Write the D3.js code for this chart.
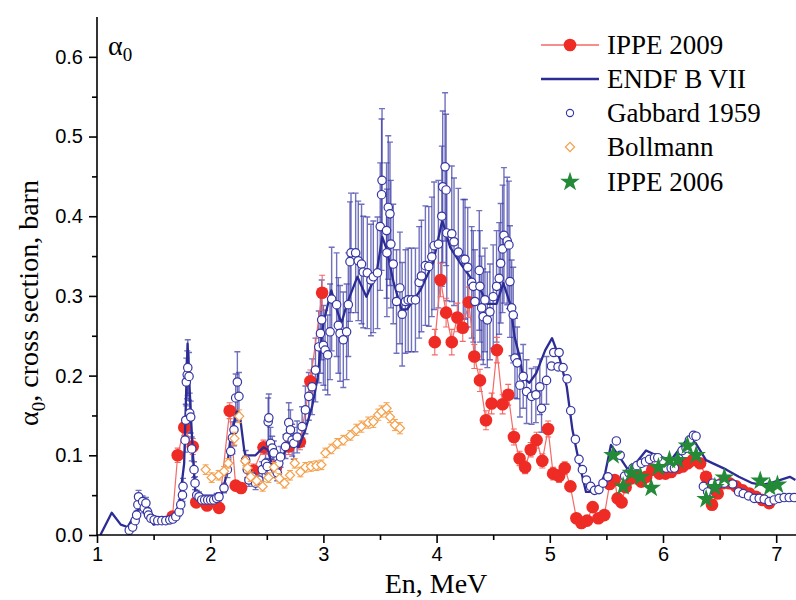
<!DOCTYPE html>
<html>
<head>
<meta charset="utf-8">
<script src="https://cdn.jsdelivr.net/npm/d3@7"></script>
<style>
  body { margin: 0; background: #fff; }
  svg { display: block; }
</style>
</head>
<body>
<svg id="chart" width="796" height="600"></svg>
<script>
// [En (MeV), alpha0 (barn)]
const endf = [
  [1.03,0],[1.13,0.028],[1.21,0.013],[1.27,0.010],[1.37,0.034],[1.41,0.031],[1.43,0.028],[1.50,0.013],
  [1.67,0.019],[1.72,0.031],[1.77,0.090],[1.80,0.240],[1.83,0.148],[1.855,0.082],[1.87,0.053],[1.90,0.048],
  [2.09,0.044],[2.14,0.073],[2.18,0.123],[2.24,0.157],[2.27,0.141],[2.30,0.107],[2.31,0.100],[2.40,0.100],
  [2.47,0.110],[2.51,0.107],[2.55,0.085],[2.60,0.082],[2.64,0.098],[2.69,0.115],[2.74,0.119],[2.78,0.110],
  [2.84,0.132],[2.90,0.161],[2.95,0.198],[2.97,0.228],[3.00,0.266],[3.07,0.307],[3.12,0.282],[3.16,0.266],
  [3.21,0.291],[3.30,0.324],[3.38,0.299],[3.47,0.329],[3.52,0.374],[3.56,0.358],[3.62,0.317],[3.69,0.283],
  [3.74,0.283],[3.86,0.308],[3.97,0.342],[4.05,0.395],[4.12,0.361],[4.21,0.341],[4.30,0.323],[4.39,0.307],
  [4.45,0.290],[4.53,0.290],[4.59,0.316],[4.65,0.290],[4.69,0.248],[4.74,0.220],[4.76,0.198],[4.82,0.191],
  [4.88,0.203],[4.96,0.232],[5.02,0.247],[5.09,0.220],[5.15,0.186],[5.20,0.132],[5.26,0.090],[5.32,0.054],
  [5.42,0.054],[5.49,0.078],[5.54,0.113],[5.62,0.097],[5.69,0.082],[5.76,0.090],[5.85,0.106],[5.94,0.100],
  [6.07,0.094],[6.15,0.109],[6.23,0.123],[6.29,0.115],[6.38,0.094],[6.47,0.088],[6.56,0.082],[6.67,0.073],
  [6.79,0.065],[6.88,0.063],[6.97,0.066],[7.12,0.073],[7.17,0.069]
];

// [En, alpha0, error]
const gabbard = [
  [1.285,0.006,0.003],[1.315,0.010,0.003],[1.337,0.018,0.004],[1.350,0.025,0.005],[1.361,0.038,0.007],
  [1.367,0.048,0.008],[1.403,0.042,0.007],[1.417,0.034,0.006],[1.432,0.040,0.007],[1.447,0.029,0.005],
  [1.455,0.025,0.004],[1.476,0.021,0.003],[1.505,0.019,0.003],[1.537,0.018,0.003],[1.573,0.018,0.003],
  [1.608,0.018,0.003],[1.643,0.019,0.003],[1.670,0.020,0.003],[1.696,0.023,0.004],[1.725,0.029,0.005],
  [1.740,0.038,0.006],[1.755,0.050,0.008],[1.760,0.061,0.010],[1.778,0.119,0.015],[1.784,0.144,0.020],
  [1.789,0.192,0.030],[1.797,0.201,0.030],[1.802,0.210,0.035],[1.813,0.199,0.030],[1.819,0.153,0.025],
  [1.828,0.148,0.020],[1.837,0.108,0.015],[1.857,0.082,0.010],[1.866,0.065,0.008],[1.881,0.050,0.006],
  [1.901,0.048,0.006],[1.925,0.044,0.006],[1.951,0.044,0.006],[1.978,0.044,0.006],[2.004,0.044,0.006],
  [2.031,0.044,0.006],[2.057,0.046,0.006],[2.078,0.048,0.005],[2.122,0.059,0.006],[2.152,0.082,0.010],
  [2.181,0.105,0.015],[2.196,0.122,0.020],[2.210,0.132,0.020],[2.225,0.172,0.030],[2.240,0.192,0.038],
  [2.254,0.174,0.030],[2.313,0.094,0.012],[2.328,0.082,0.010],[2.342,0.069,0.008],[2.372,0.073,0.008],
  [2.401,0.065,0.008],[2.430,0.069,0.008],[2.460,0.082,0.010],[2.489,0.090,0.012],[2.504,0.086,0.010],
  [2.512,0.142,0.030],[2.518,0.147,0.030],[2.533,0.115,0.020],[2.548,0.109,0.015],[2.562,0.103,0.015],
  [2.577,0.082,0.010],[2.592,0.078,0.010],[2.606,0.090,0.012],[2.621,0.098,0.013],[2.665,0.111,0.015],
  [2.680,0.123,0.018],[2.694,0.141,0.025],[2.709,0.132,0.025],[2.724,0.119,0.020],[2.738,0.115,0.020],
  [2.768,0.123,0.020],[2.812,0.136,0.025],[2.841,0.157,0.030],[2.871,0.174,0.030],[2.900,0.186,0.035],
  [2.930,0.207,0.040],[2.959,0.236,0.045],[2.974,0.253,0.050],[2.985,0.270,0.050],[3.000,0.238,0.050],
  [3.015,0.232,0.050],[3.038,0.226,0.050],[3.059,0.255,0.060],[3.073,0.296,0.065],[3.117,0.289,0.065],
  [3.132,0.263,0.060],[3.147,0.253,0.060],[3.176,0.245,0.060],[3.205,0.255,0.060],[3.220,0.289,0.065],
  [3.235,0.343,0.075],[3.244,0.354,0.075],[3.285,0.354,0.075],[3.308,0.344,0.075],[3.337,0.340,0.075],
  [3.352,0.330,0.070],[3.388,0.329,0.070],[3.420,0.320,0.070],[3.441,0.324,0.070],[3.478,0.329,0.070],
  [3.502,0.387,0.080],[3.514,0.427,0.095],[3.518,0.445,0.090],[3.558,0.382,0.085],[3.561,0.354,0.080],
  [3.573,0.411,0.090],[3.588,0.403,0.090],[3.596,0.365,0.080],[3.617,0.340,0.075],[3.646,0.293,0.065],
  [3.676,0.310,0.070],[3.696,0.277,0.065],[3.725,0.293,0.065],[3.749,0.295,0.065],[3.778,0.295,0.065],
  [3.813,0.295,0.065],[3.846,0.317,0.070],[3.866,0.325,0.070],[3.901,0.338,0.075],[3.931,0.337,0.075],
  [3.958,0.349,0.075],[3.978,0.363,0.080],[4.016,0.365,0.080],[4.046,0.400,0.088],[4.054,0.437,0.095],
  [4.075,0.462,0.093],[4.084,0.433,0.095],[4.090,0.379,0.085],[4.134,0.378,0.085],[4.154,0.368,0.080],
  [4.192,0.355,0.080],[4.236,0.346,0.075],[4.251,0.346,0.075],[4.275,0.336,0.075],[4.310,0.317,0.070],
  [4.324,0.312,0.070],[4.339,0.293,0.065],[4.377,0.332,0.075],[4.383,0.312,0.070],[4.398,0.285,0.065],
  [4.412,0.274,0.060],[4.427,0.295,0.065],[4.448,0.270,0.060],[4.471,0.280,0.060],[4.500,0.299,0.065],
  [4.530,0.312,0.070],[4.553,0.322,0.070],[4.566,0.341,0.075],[4.583,0.359,0.080],[4.595,0.376,0.085],
  [4.624,0.369,0.080],[4.639,0.364,0.080],[4.648,0.318,0.070],[4.663,0.285,0.060],[4.677,0.276,0.060],
  [4.692,0.222,0.050],[4.712,0.216,0.045],[4.736,0.188,0.040],[4.765,0.199,0.040],[4.795,0.180,0.040],
  [4.839,0.174,0.035],[4.877,0.176,0.035],[4.912,0.186,0.035],[4.927,0.159,0.030],[4.971,0.194,0.030],
  [5.015,0.212,0],[5.035,0.229,0],[5.073,0.211,0],[5.082,0.229,0],[5.117,0.210,0],[5.152,0.196,0],
  [5.185,0.156,0],[5.226,0.120,0],[5.258,0.095,0],[5.288,0.082,0],[5.323,0.069,0],[5.361,0.061,0],
  [5.396,0.056,0],[5.434,0.057,0],[5.470,0.065,0],[5.514,0.073,0],[5.588,0.118,0],[5.622,0.100,0],
  [5.661,0.074,0],[5.699,0.078,0],[5.734,0.084,0],[5.769,0.087,0],[5.808,0.090,0],[5.846,0.092,0],
  [5.881,0.095,0],[5.925,0.097,0],[5.954,0.097,0],[6.028,0.084,0],[6.072,0.084,0],[6.101,0.084,0],
  [6.139,0.096,0],[6.169,0.106,0],[6.204,0.109,0],[6.233,0.119,0],[6.269,0.125,0],[6.292,0.124,0],
  [6.357,0.061,0],[6.395,0.054,0],[6.439,0.065,0],[6.492,0.064,0],[6.542,0.065,0],[6.615,0.064,0],
  [6.668,0.054,0],[6.709,0.052,0],[6.756,0.049,0],[6.806,0.046,0],[6.850,0.046,0],[6.894,0.045,0],
  [6.938,0.042,0],[6.982,0.044,0],[7.026,0.046,0],[7.070,0.047,0],[7.115,0.047,0],[7.159,0.047,0]
];

const bollmann = [
  [1.960,0.082,0.006],[2.013,0.072,0.006],[2.075,0.075,0.006],[2.122,0.080,0.006],[2.159,0.090,0.006],
  [2.214,0.121,0.008],[2.256,0.149,0.008],[2.309,0.093,0.006],[2.330,0.084,0.006],[2.357,0.073,0.006],
  [2.410,0.068,0.006],[2.463,0.061,0.006],[2.515,0.072,0.006],[2.564,0.085,0.006],[2.612,0.071,0.006],
  [2.656,0.065,0.006],[2.705,0.075,0.006],[2.747,0.090,0.006],[2.797,0.079,0.006],[2.841,0.085,0.006],
  [2.890,0.086,0.006],[2.938,0.087,0.006],[2.982,0.088,0.006],[3.018,0.103,0.006],[3.070,0.108,0.006],
  [3.123,0.115,0.006],[3.176,0.119,0.006],[3.238,0.125,0.006],[3.291,0.132,0.007],[3.335,0.136,0.007],
  [3.396,0.141,0.007],[3.441,0.142,0.007],[3.485,0.151,0.007],[3.514,0.155,0.007],[3.558,0.159,0.007],
  [3.588,0.148,0.007],[3.632,0.138,0.007],[3.676,0.134,0.007]
];

const ippe2009 = [
  [1.667,0.023,0.004],[1.713,0.100,0.009],[1.771,0.135,0.010],[1.846,0.111,0.010],[1.877,0.041,0.005],
  [1.972,0.037,0.005],[2.078,0.034,0.005],[2.172,0.156,0.010],[2.225,0.062,0.006],[2.273,0.059,0.006],
  [2.383,0.081,0.008],[2.471,0.110,0.009],[2.581,0.085,0.008],[2.694,0.111,0.010],[2.793,0.117,0.010],
  [2.885,0.193,0.014],[2.989,0.304,0.022],[3.984,0.242,0.016],[4.035,0.320,0.021],[4.084,0.279,0.018],
  [4.134,0.242,0.016],[4.183,0.273,0.018],[4.231,0.260,0.017],[4.285,0.292,0.019],[4.333,0.224,0.015],
  [4.383,0.194,0.014],[4.436,0.144,0.012],[4.486,0.165,0.013],[4.533,0.232,0.016],[4.583,0.164,0.012],
  [4.633,0.176,0.013],[4.683,0.123,0.010],[4.733,0.096,0.009],[4.782,0.085,0.008],[4.831,0.107,0.009],
  [4.883,0.119,0.010],[4.934,0.093,0.009],[4.985,0.133,0.010],[5.029,0.077,0.008],[5.082,0.074,0.008],
  [5.132,0.084,0.008],[5.182,0.061,0.006],[5.235,0.021,0.004],[5.279,0.015,0.004],[5.329,0.018,0.004],
  [5.379,0.035,0.004],[5.429,0.021,0.004],[5.482,0.025,0.004],[5.529,0.064,0.005],[5.573,0.069,0.005],
  [5.599,0.046,0.004],[5.634,0.041,0.004],[5.670,0.060,0.005],[5.720,0.071,0.005],[5.764,0.073,0.005],
  [5.808,0.067,0.005],[5.852,0.073,0.005],[5.905,0.082,0.005],[5.969,0.077,0.005],[6.022,0.077,0.005],
  [6.072,0.079,0.005],[6.130,0.084,0.005],[6.174,0.086,0.005],[6.218,0.090,0.005],[6.263,0.094,0.005],
  [6.328,0.090,0.005],[6.380,0.073,0.005],[6.405,0.063,0.005],[6.433,0.038,0.004],[6.483,0.052,0.004],
  [6.527,0.065,0.005],[6.586,0.065,0.005],[6.645,0.061,0.005],[6.703,0.056,0.004],[6.762,0.052,0.004],
  [6.821,0.048,0.004],[6.879,0.044,0.004],[6.938,0.040,0.004]
];

const ippe2006 = [
  [5.559,0.100],[5.648,0.061],[5.720,0.078],[5.802,0.073],[5.896,0.059],[5.960,0.085],[6.057,0.094],
  [6.130,0.094],[6.216,0.112],[6.293,0.100],[6.381,0.045],[6.458,0.060],[6.542,0.072],[6.859,0.068],
  [6.943,0.060],[7.011,0.063]
];

const xTicks = [1, 2, 3, 4, 5, 6, 7];
const xMinor = [1.5, 2.5, 3.5, 4.5, 5.5, 6.5];
const yTicks = [0, 0.1, 0.2, 0.3, 0.4, 0.5, 0.6];
const yMinor = [0.05, 0.15, 0.25, 0.35, 0.45, 0.55];
const legendNames = ['IPPE 2009', 'ENDF B VII', 'Gabbard 1959', 'Bollmann', 'IPPE 2006'];

const margin = { top: 17, right: 0, bottom: 65, left: 97 };
const width = 796 - margin.left - margin.right;
const height = 600 - margin.top - margin.bottom;

const svg = d3.select('#chart');
const g = svg.append('g').attr('transform', `translate(${margin.left},${margin.top})`);

const x = d3.scaleLinear().domain([1, 7.175]).range([0, width]);
const y = d3.scaleLinear().domain([0, 0.65]).range([height, 0]);

const c = {
  red: '#ee2b24', redLine: '#f36a66', navy: '#2c2c95', gab: '#3535a3',
  orange: '#f5a04c', green: '#238a37'
};

svg.append('defs').append('clipPath').attr('id', 'clip')
  .append('rect').attr('width', width).attr('height', height + 4).attr('y', -4);
const plot = g.append('g').attr('clip-path', 'url(#clip)');

function errorBars(data, color, opacity, cap, sw) {
  plot.append('g')
    .attr('stroke', color).attr('stroke-opacity', opacity)
    .attr('stroke-width', sw).attr('fill', 'none')
    .selectAll('path')
    .data(data.filter(d => d[2] > 0))
    .join('path')
    .attr('d', d => {
      const cx = x(d[0]), y0 = y(d[1] - d[2]), y1 = y(d[1] + d[2]);
      return `M${cx},${y0}V${y1}M${cx - cap},${y1}H${cx + cap}M${cx - cap},${y0}H${cx + cap}`;
    });
}

// Gabbard error bars sit under everything
errorBars(gabbard, c.gab, 0.7, 3, 1.4);

// IPPE 2009 -- no connecting line across the 3-4 MeV gap
const ippeLine = d3.line()
  .defined((d, i, arr) => i === 0 || d[0] - arr[i - 1][0] < 0.5)
  .x(d => x(d[0])).y(d => y(d[1]));
const ippeSegs = [ippe2009.filter(d => d[0] < 3.5), ippe2009.filter(d => d[0] > 3.5)];
plot.append('g').selectAll('path')
  .data(ippeSegs).join('path')
  .attr('fill', 'none').attr('stroke', c.redLine).attr('stroke-width', 1.2)
  .attr('d', ippeLine);
errorBars(ippe2009, c.redLine, 1, 3, 1.1);
plot.append('g').selectAll('circle')
  .data(ippe2009).join('circle')
  .attr('cx', d => x(d[0])).attr('cy', d => y(d[1]))
  .attr('r', 6.3).attr('fill', c.red);

// ENDF B VII
plot.append('path')
  .datum(endf)
  .attr('fill', 'none').attr('stroke', c.navy).attr('stroke-width', 2.3)
  .attr('stroke-linejoin', 'round')
  .attr('d', d3.line().x(d => x(d[0])).y(d => y(d[1])));

// Gabbard 1959
plot.append('g').selectAll('circle')
  .data(gabbard).join('circle')
  .attr('cx', d => x(d[0])).attr('cy', d => y(d[1]))
  .attr('r', 4.2).attr('fill', '#fff').attr('stroke', c.gab).attr('stroke-width', 1.2);

// Bollmann
errorBars(bollmann, c.orange, 1, 3, 1);
const diamond = d3.symbol().type(d3.symbolSquare).size(42);
plot.append('g').selectAll('path.dia')
  .data(bollmann).join('path')
  .attr('class', 'dia')
  .attr('d', diamond)
  .attr('transform', d => `translate(${x(d[0])},${y(d[1])}) rotate(45)`)
  .attr('fill', '#fff').attr('stroke', c.orange).attr('stroke-width', 1.2);

// IPPE 2006
const star = d3.symbol().type(d3.symbolStar).size(120);
plot.append('g').selectAll('path')
  .data(ippe2006).join('path')
  .attr('d', star)
  .attr('transform', d => `translate(${x(d[0])},${y(d[1])})`)
  .attr('fill', c.green);

// Axes
const tickFont = '"Liberation Sans", Arial, sans-serif';
const serif = '"Liberation Serif", "Times New Roman", serif';

g.append('g').attr('transform', `translate(0,${height})`)
  .call(d3.axisBottom(x).tickValues(xTicks).tickFormat(d3.format('d')).tickSize(8).tickPadding(4))
  .call(a => a.select('.domain').attr('d', `M0,0H${width}`));
g.append('g').attr('transform', `translate(0,${height})`)
  .call(d3.axisBottom(x).tickValues(xMinor).tickFormat('').tickSize(5))
  .call(a => a.select('.domain').remove());

g.append('g')
  .call(d3.axisLeft(y).tickValues(yTicks).tickFormat(d3.format('.1f')).tickSize(8).tickPadding(6))
  .call(a => a.select('.domain').attr('d', `M0,${height}V0`));
g.append('g')
  .call(d3.axisLeft(y).tickValues(yMinor).tickFormat('').tickSize(5))
  .call(a => a.select('.domain').remove());

g.selectAll('.domain, .tick line').attr('stroke', '#000').attr('stroke-width', 1.6);
g.selectAll('.tick text').attr('font-family', tickFont).attr('font-size', 20).attr('fill', '#000');

// Axis titles
svg.append('text')
  .attr('x', 436).attr('y', 593)
  .attr('text-anchor', 'middle')
  .attr('font-family', serif).attr('font-size', 28)
  .text('En, MeV');

const yTitle = svg.append('text')
  .attr('transform', 'translate(38,303) rotate(-90)')
  .attr('text-anchor', 'middle')
  .attr('font-family', serif).attr('font-size', 28);
yTitle.append('tspan').text('α');
yTitle.append('tspan').attr('dy', 7).attr('font-size', 19).text('0');
yTitle.append('tspan').attr('dy', -7).text(', cross section, barn');

const corner = svg.append('text')
  .attr('x', 108).attr('y', 55)
  .attr('font-family', serif).attr('font-size', 28);
corner.append('tspan').text('α');
corner.append('tspan').attr('dy', 6).attr('font-size', 19).text('0');

// Legend
const legend = svg.append('g').attr('transform', 'translate(570,45)');
const rowY = [0, 34, 68, 102, 137];

legendNames.forEach((name, i) => {
  const row = legend.append('g').attr('transform', `translate(0,${rowY[i]})`);
  if (i === 0) {
    row.append('line').attr('x1', -29).attr('x2', 29).attr('stroke', c.redLine).attr('stroke-width', 1.3);
    row.append('circle').attr('r', 6.3).attr('fill', c.red);
  } else if (i === 1) {
    row.append('line').attr('x1', -29).attr('x2', 29).attr('stroke', c.navy).attr('stroke-width', 2.3);
  } else if (i === 2) {
    row.append('circle').attr('r', 3.6).attr('fill', '#fff').attr('stroke', c.gab).attr('stroke-width', 1.1);
  } else if (i === 3) {
    row.append('path').attr('d', diamond).attr('transform', 'rotate(45)')
      .attr('fill', '#fff').attr('stroke', c.orange).attr('stroke-width', 1.2);
  } else {
    row.append('path').attr('d', star).attr('fill', c.green);
  }
  row.append('text')
    .attr('x', 37).attr('y', 9)
    .attr('font-family', serif).attr('font-size', 27)
    .text(name);
});
</script>
</body>
</html>
